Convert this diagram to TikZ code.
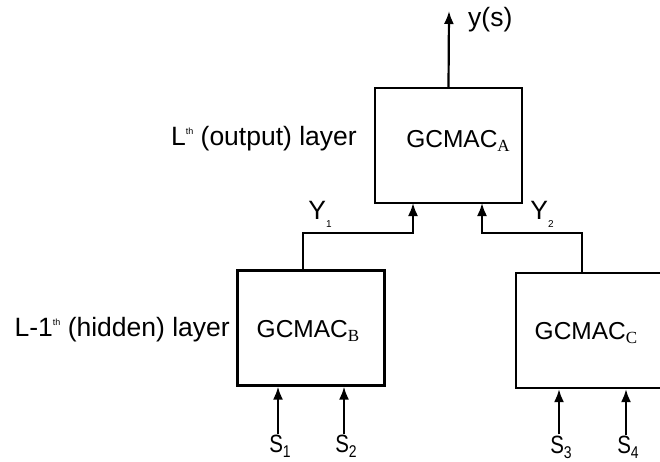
\documentclass[tikz,border=0pt]{standalone}
\usepackage{fontspec}
\setmainfont{Liberation Sans}
\newfontfamily\subserif{Liberation Serif}
\newfontfamily\narrowsans[FakeStretch=0.82]{Liberation Sans}
\usepackage{tikz}
\usetikzlibrary{calc, positioning, arrows.meta}

\newcommand{\gcmac}[1]{\fontsize{24.5}{24.5}\selectfont GCMAC\raisebox{-4pt}{\subserif\fontsize{17}{17}\selectfont #1}}
\newcommand{\thsup}{\raisebox{11pt}{\fontsize{9}{9}\selectfont th}}
\newcommand{\insig}[1]{\narrowsans\fontsize{25}{25}\selectfont S\raisebox{-5pt}{\fontsize{17}{17}\selectfont #1}}

\tikzset{
  gbox/.style={draw, line width=2.2pt, minimum width=147pt, minimum height=115pt, inner sep=0pt},
  sig/.style={line width=2.2pt, -{Latex[length=13pt,width=10pt]}},
  lbl/.style={font=\fontsize{26.5}{26.5}\selectfont, inner sep=0pt}
}

\begin{document}
\begin{tikzpicture}[x=1pt,y=-1pt]
\useasboundingbox (0,0) rectangle (660,462);
	% Output layer
\node [gbox] (gA) at (448.5,145.5) {};
\node at (458,141) {\gcmac{A}};
\node [lbl,anchor=east] (lout) at (357,139) {L\thsup\ (output) layer};
\coordinate (yout) at (449,11);
\node [lbl,anchor=west] (ys) at (468,20) {y(s)};
\draw [sig] (gA.north) -- (yout);

	% Hidden layer
\node [gbox] (gB) at (311,328) {};
\node [gbox] (gC) at (589.5,330.5) {};
\node at (308,331) {\gcmac{B}};
\node at (586,333) {\gcmac{C}};
\node [lbl,anchor=east] (lhid) at (230,330) {L-1\thsup\ (hidden) layer};

	% Hidden outputs
\coordinate (a1) at (413,203);
\coordinate (a2) at (482,203);
\coordinate (b1) at (303,271);
\coordinate (c1) at (582,273);
\node [lbl] (y1) at (320,214) {Y\raisebox{-8pt}{\fontsize{10}{10}\selectfont 1}};
\node [lbl] (y2) at (542,214) {Y\raisebox{-8pt}{\fontsize{10}{10}\selectfont 2}};
\draw [sig] (b1) -- ++(0,-38) -| (a1);
\draw [sig] (c1) -- ++(0,-40) -| (a2);

	% Inputs
\node [inner sep=1pt] (s1) at (280,446) {\insig{1}};
\node [inner sep=1pt] (s2) at (346,446) {\insig{2}};
\node [inner sep=1pt] (s3) at (561,447) {\insig{3}};
\node [inner sep=1pt] (s4) at (628,447) {\insig{4}};
\draw [sig] ([xshift=-2pt]s1.north) -- ([xshift=-2pt]s1.north |- gB.south);
\draw [sig] ([xshift=-2pt]s2.north) -- ([xshift=-2pt]s2.north |- gB.south);
\draw [sig] ([xshift=-2pt]s3.north) -- ([xshift=-2pt]s3.north |- gC.south);
\draw [sig] ([xshift=-2pt]s4.north) -- ([xshift=-2pt]s4.north |- gC.south);
\end{tikzpicture}
\end{document}
